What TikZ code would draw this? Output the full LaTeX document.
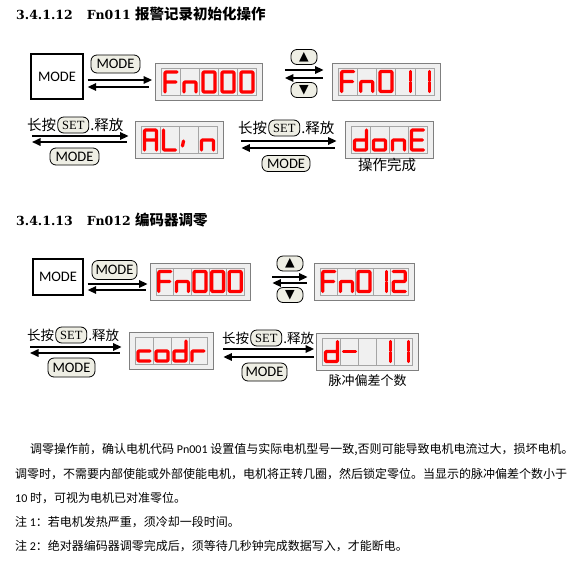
\documentclass[tikz,border=0pt]{standalone}
\usepackage{fontspec}
\setmainfont{Carlito}
\newfontfamily\cjk{Noto Sans CJK SC}
\newfontfamily\hdfont{DejaVu Serif}
\newfontfamily\symfont{DejaVu Sans}
\newfontfamily\setfont{Liberation Serif}
\usetikzlibrary{arrows.meta,calc,positioning}

\definecolor{btnfill}{HTML}{EEEEE4}
\definecolor{lcdred}{HTML}{FF0000}
\definecolor{lcdback}{HTML}{EFEFEF}
\definecolor{lcdline}{HTML}{7F7F7F}

\tikzset{
  modebox/.style={draw, line width=1.3pt, fill=white, inner sep=0pt, font=\fontsize{14.5}{14.5}\selectfont},
  keybtn/.style={draw, fill=btnfill, rounded corners=6pt, line width=0.8pt, inner sep=0pt, font=\fontsize{14.5}{14.5}\selectfont},
  setbtn/.style={keybtn, minimum width=31, minimum height=16, font=\setfont\fontsize{12.5}{12.5}\selectfont},
  updown/.style={keybtn, minimum width=26, minimum height=15, font=\symfont\fontsize{12.5}{12.5}\selectfont},
  lcd/.style={draw=lcdline, fill=lcdback, line width=0.8pt, inner sep=0pt},
  lcdcell/.style={draw=lcdline!70, fill=white!94!black, line width=0.6pt, minimum width=#1, minimum height=27, inner sep=0pt},
  seg/.style={draw=lcdred, line width=3.3pt, line cap=round, line join=round, rounded corners=1pt},
  fwd/.style={-{Triangle[length=8.5pt,width=7.5pt]}, line width=1.6pt},
  bwd/.style={{Triangle[length=8.5pt,width=7.5pt]}-, line width=1.6pt},
  zh/.style={font=\cjk\fontsize{14.5}{15}\selectfont, inner sep=0pt},
  body/.style={font=\cjk\fontsize{12}{12}\selectfont, inner sep=0pt, anchor=west},
  head/.style={font=\hdfont\bfseries\fontsize{12.5}{13}\selectfont, inner sep=0pt, anchor=west},
  % seven segment glyphs
  ch F/.pic={\draw[seg] (6,-10) -- (-6,-10) -- (-6,10) (-6,0) -- (5,0);},
  ch n/.pic={\draw[seg] (-6,10) -- (-6,0) -- (6,0) -- (6,10);},
  ch 0/.pic={\draw[seg] (-6,-10) rectangle (6,10);},
  ch 1/.pic={\draw[seg] (5,-10) -- (5,-1) (5,1) -- (5,10);},
  ch 2/.pic={\draw[seg] (-6,-10) -- (6,-10) -- (6,0) -- (-6,0) -- (-6,10) -- (6,10);},
  ch A/.pic={\draw[seg] (-6,10) -- (-6,-10) -- (6,-10) -- (6,10) (-6,0) -- (6,0);},
  ch L/.pic={\draw[seg] (-6,-10) -- (-6,10) -- (6,10);},
  ch i/.pic={\draw[seg] (-5,1) -- (-6,6);},
  ch d/.pic={\draw[seg] (6,-10) -- (6,10) -- (-6,10) -- (-6,0) -- (6,0);},
  ch o/.pic={\draw[seg] (-6,0) rectangle (6,10);},
  ch E/.pic={\draw[seg] (6,-10) -- (-6,-10) -- (-6,10) -- (6,10) (-6,0) -- (5,0);},
  ch c/.pic={\draw[seg] (6,0) -- (-6,0) -- (-6,10) -- (6,10);},
  ch r/.pic={\draw[seg] (-6,10) -- (-6,0) -- (6,0);},
  ch -/.pic={\draw[seg] (-6,0) -- (6,0);},
  ch x/.pic={},
}

% [cell width]{name}{centre}{cells}{glyphs}
\newcommand\lcd[5][19]{%
  \node[lcd, minimum width={#4*#1+12}, minimum height=37] (#2) at #3 {};
  \foreach \g [count=\i] in {#5} {
    \node[lcdcell=#1] (#2-\i) at ($(#2.center)+({(\i-(#4+1)/2)*#1},0)$) {};
    \pic at (#2-\i) {ch \g};
  }
}

\begin{document}
\begin{tikzpicture}[x=1pt, y=-1pt]
  \useasboundingbox[fill=white] (0,0) rectangle (584,582);

  % Fn011
  \node[head] (head1) at (16,14) {3.4.1.12\hspace{14pt}Fn011 {\cjk\bfseries\fontsize{14.5}{15}\selectfont 报警记录初始化操作}};

  \node[modebox, minimum width=52, minimum height=45] (mode1) at (57,76.5) {MODE};
  \node[keybtn, minimum width=49, minimum height=18] (key1) at (115.5,64) {MODE};
  \lcd{fn1}{(209,82)}{5}{F,n,0,0,0}
  \node[updown] (up1) at (304,57) {▲};
  \node[updown] (down1) at (304,90) {▼};
  \lcd[19.2]{fn2}{(386,81.5)}{5}{F,n,0,1,1}

  \draw[fwd, shorten <=4pt, shorten >=3pt] (mode1.east |- 0,80) -- (fn1.west |- 0,80);
  \draw[bwd, shorten <=4pt, shorten >=6pt] (mode1.east |- 0,87) -- (fn1.west |- 0,87);
  \draw[fwd, shorten <=22pt, shorten >=8pt] (fn1.east |- 0,70) -- (fn2.west |- 0,70);
  \draw[bwd, shorten <=22pt, shorten >=9pt] (fn1.east |- 0,78) -- (fn2.west |- 0,78);

  \coordinate (row2) at (32,139);
  \node[zh, anchor=west] (hold1) at (27,125) {长按};
  \node[setbtn, right=1pt of hold1] (set1) {SET};
  \node[zh, right=1pt of set1] (rel1) {.释放};
  \node[keybtn, minimum width=49, minimum height=17] (key2) at (74.5,156.5) {MODE};
  \lcd{alin}{(179,140)}{4}{A,L,i,n}
  \draw[fwd, shorten >=6pt] (row2 |- 0,136) -- (alin.west |- 0,136);
  \draw[bwd, shorten >=8pt] (row2 |- 0,142) -- (alin.west |- 0,142);

  \node[zh, anchor=west] (hold2) at (238,128) {长按};
  \node[setbtn, right=1pt of hold2] (set2) {SET};
  \node[zh, right=1pt of set2] (rel2) {.释放};
  \node[keybtn, minimum width=48, minimum height=16] (key3) at (286,163.5) {MODE};
  \lcd{done}{(389,140)}{4}{d,o,n,E}
  \node[zh] (cap1) at (387,165) {操作完成};
  \draw[fwd, shorten <=18pt, shorten >=8pt] (alin.east |- 0,141) -- (done.west |- 0,141);
  \draw[bwd, shorten <=18pt, shorten >=10pt] (alin.east |- 0,148) -- (done.west |- 0,148);

  % Fn012
  \node[head] (head2) at (16,220) {3.4.1.13\hspace{14pt}Fn012 {\cjk\bfseries\fontsize{14.5}{15}\selectfont 编码器调零}};

  \node[modebox, minimum width=50, minimum height=36] (mode2) at (58,277) {MODE};
  \node[keybtn, minimum width=45, minimum height=19] (key4) at (114.5,270) {MODE};
  \lcd[17.6]{fn3}{(200,281.5)}{5}{F,n,0,0,0}
  \node[updown] (up2) at (290,263.5) {▲};
  \node[updown] (down2) at (290,295) {▼};
  \lcd[17.6]{fn4}{(364,281.5)}{5}{F,n,0,1,2}

  \draw[fwd, shorten <=4pt, shorten >=2pt] (mode2.east |- 0,284) -- (fn3.west |- 0,284);
  \draw[bwd, shorten <=4pt, shorten >=4pt] (mode2.east |- 0,290) -- (fn3.west |- 0,290);
  \draw[fwd, shorten <=22pt, shorten >=6pt] (fn3.east |- 0,277) -- (fn4.west |- 0,277);
  \draw[bwd, shorten <=22pt, shorten >=7pt] (fn3.east |- 0,283) -- (fn4.west |- 0,283);

  \coordinate (row4) at (30,350);
  \node[zh, anchor=west, font=\cjk\fontsize{13.5}{14}\selectfont] (hold3) at (27,335) {长按};
  \node[setbtn, right=1pt of hold3] (set3) {SET};
  \node[zh, right=1pt of set3, font=\cjk\fontsize{13.5}{14}\selectfont] (rel3) {.释放};
  \node[keybtn, minimum width=47, minimum height=19] (key5) at (71.5,367.5) {MODE};
  \lcd[18]{codr}{(171,351)}{4}{c,o,d,r}
  \draw[fwd, shorten >=7pt] (row4 |- 0,347) -- (codr.west |- 0,347);
  \draw[bwd, shorten >=9pt] (row4 |- 0,353) -- (codr.west |- 0,353);

  \node[zh, anchor=west, font=\cjk\fontsize{13.5}{14}\selectfont] (hold4) at (222,338) {长按};
  \node[setbtn, right=1pt of hold4] (set4) {SET};
  \node[zh, right=1pt of set4, font=\cjk\fontsize{13.5}{14}\selectfont] (rel4) {.释放};
  \node[keybtn, minimum width=45, minimum height=18] (key6) at (264.5,372) {MODE};
  \lcd[18]{pulse}{(367.5,351.5)}{5}{d,-,x,1,1}
  \node[zh, font=\cjk\fontsize{13}{13}\selectfont] (cap2) at (367.5,381) {脉冲偏差个数};
  \draw[fwd, shorten <=10pt, shorten >=2pt] (codr.east |- 0,349) -- (pulse.west |- 0,349);
  \draw[bwd, shorten <=10pt, shorten >=2pt] (codr.east |- 0,357) -- (pulse.west |- 0,357);

  % notes
  \node[body] (line1) at (30,450) {调零操作前，确认电机代码 {\rmfamily Pn001} 设置值与实际电机型号一致,否则可能导致电机电流过大，损坏电机。};
  \node[body] (line2) at (15,474) {调零时，不需要内部使能或外部使能电机，电机将正转几圈，然后锁定零位。当显示的脉冲偏差个数小于};
  \node[body] (line3) at (15,498) {{\rmfamily 10} 时，可视为电机已对准零位。};
  \node[body] (line4) at (15,522) {注 {\rmfamily 1}：若电机发热严重，须冷却一段时间。};
  \node[body] (line5) at (15,546) {注 {\rmfamily 2}：绝对器编码器调零完成后，须等待几秒钟完成数据写入，才能断电。};
\end{tikzpicture}
\end{document}
